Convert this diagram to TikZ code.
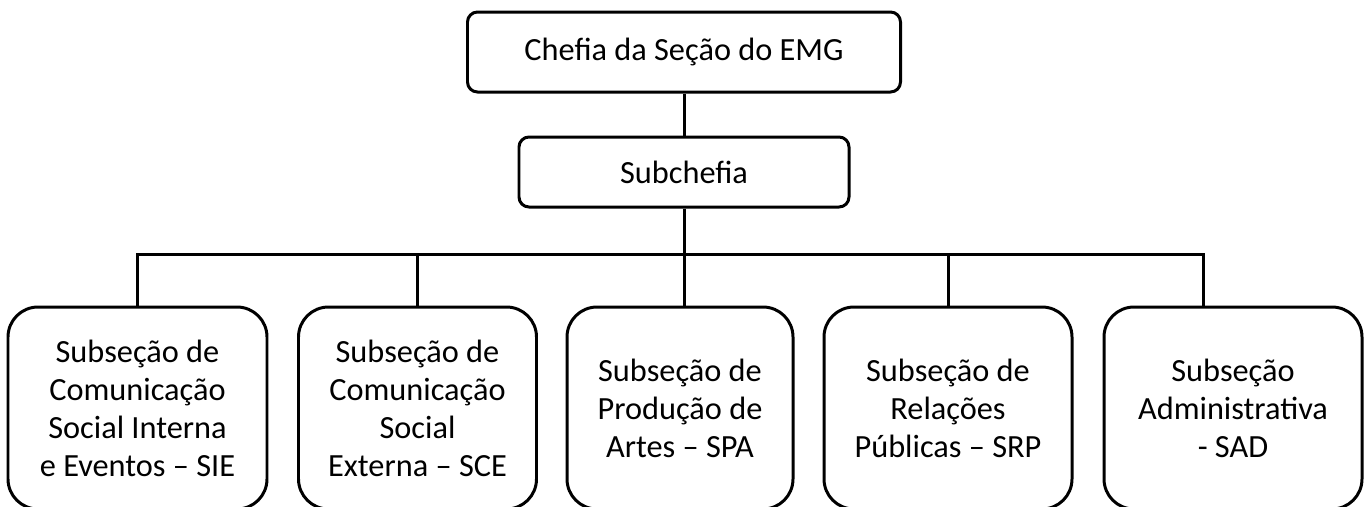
\documentclass[tikz,border=0pt]{standalone}
\usepackage{fontspec}
\setmainfont{Carlito}
\begin{document}
\begin{tikzpicture}[line width=1.7pt,
  topbox/.style={draw, rounded corners=0.2cm, minimum height=1.6cm, align=center},
  subbox/.style={draw, rounded corners=0.6cm, minimum height=4.04cm, align=center, inner sep=0pt}]
        \clip (0,0) rectangle (27.36,-10.12);
        \fontsize{18.4}{21.6}\selectfont
        \node[topbox, minimum width=8.66cm] (chefia) at (13.68,-1.04) {Chefia da Seção do EMG};
        \node[topbox, minimum width=6.6cm, minimum height=1.4cm] (sub) at (13.68,-3.44) {Subchefia};
        \node[subbox, minimum width=5.18cm] (sie) at (2.75,-8.16) {Subseção de\\Comunicação\\Social Interna\\e Eventos -- SIE};
        \node[subbox, minimum width=4.76cm] (sce) at (8.35,-8.16) {Subseção de\\Comunicação\\Social\\Externa -- SCE};
        \node[subbox, minimum width=4.52cm] (spa) at (13.60,-8.16) {Subseção de\\Produção de\\Artes -- SPA};
        \node[subbox, minimum width=4.96cm] (srp) at (18.96,-8.16) {Subseção de\\Relações\\Públicas -- SRP};
        \node[subbox, minimum width=5.16cm] (sad) at (24.66,-8.16) {Subseção\\Administrativa\\- SAD};
        \coordinate (bus) at (13.68,-5.08);
        \coordinate (sadtop) at (24.06,-6.14);
        \draw (chefia.south) -- (sub.north);
        \draw (sub.south) -- (bus);
        \draw (sie.north) -- (sie.north |- bus) -- (sadtop |- bus) -- (sadtop);
        \draw (sce.north) -- (sce.north |- bus);
        \draw (bus) -- (bus |- spa.north);
        \draw (srp.north) -- (srp.north |- bus);
\end{tikzpicture}
\end{document}
